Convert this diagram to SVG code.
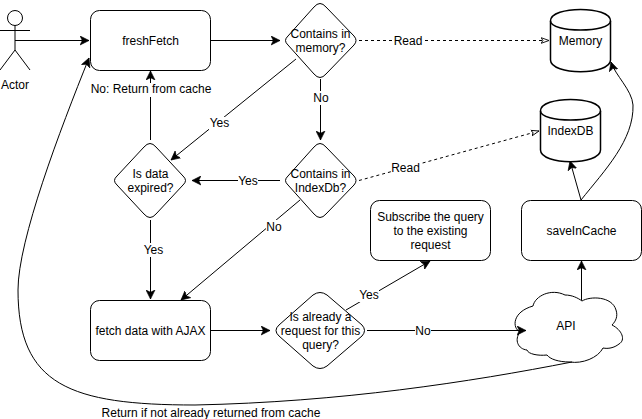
<svg xmlns="http://www.w3.org/2000/svg" width="642" height="419" viewBox="0 0 642 419">
<style>
text{font-family:"Liberation Sans",Arial,sans-serif;font-size:12px;fill:#000;text-anchor:middle}
.s{fill:#fff;stroke:#000;stroke-width:1}
.c{fill:none;stroke:#000;stroke-width:1}
.d{stroke-dasharray:3 3}
.l{fill:#fff;stroke:none}
.b{stroke-width:1.500}
</style>
<defs>
<marker id="a" markerUnits="userSpaceOnUse" markerWidth="10" markerHeight="10" refX="8" refY="4" orient="auto" viewBox="0 0 9 8"><path d="M0 0L8 4L0 8L2 4Z" fill="#000" stroke="#000" stroke-width=".6"/></marker>
<marker id="o" markerUnits="userSpaceOnUse" markerWidth="9" markerHeight="8" refX="7" refY="3" orient="auto" viewBox="0 0 8 6"><path d="M0 .5L7 3L0 5.5L1.6 3Z" fill="#fff" stroke="#000" stroke-width=".8"/></marker>
</defs>
<rect width="642" height="419" fill="#fff"/>
<g id="actor"><circle class="s" cx="15" cy="18" r="7.500"/><path class="c" d="M15 25.500V50M0 30.500H30M15 50L0 70M15 50L30 70"/><text x="15" y="89">Actor</text></g>
<g id="freshFetch"><rect class="s" x="90.500" y="10.500" width="120" height="60" rx="9"/><text x="150.500" y="45">freshFetch</text></g>
<g id="containsMemory"><path class="s" d="M314 7Q320 0 326 7L354 36Q358 40.500 354 45L326 74Q320 81 314 74L288 45Q283 40.500 288 36Z"/><text x="320.500" y="38">Contains in</text><text x="320.500" y="52">memory?</text></g>
<g id="containsIndexDb"><path class="s" d="M314 147Q320 140 326 147L354 176Q358 180.500 354 185L326 214Q320 221 314 214L288 185Q283 180.500 288 176Z"/><text x="320.500" y="178">Contains in</text><text x="320.500" y="192">IndexDb?</text></g>
<g id="isExpired"><path class="s" d="M144 147Q150 140 156 147L183 176Q188 180.500 183 185L156 214Q150 221 144 214L117 185Q112 180.500 117 176Z"/><text x="150.500" y="178">Is data</text><text x="150.500" y="192">expired?</text></g>
<g id="fetchAjax"><rect class="s" x="90.500" y="300.500" width="120" height="60" rx="9"/><text x="150.500" y="335">fetch data with AJAX</text></g>
<g id="isRequest"><path class="s" d="M313 295Q320 290 327 295L362 325Q367 330.500 362 336L327 366Q320 371 313 366L279 336Q273 330.500 279 325Z"/><text x="320.500" y="321">Is already a</text><text x="320.500" y="335">request for this</text><text x="320.500" y="349">query?</text></g>
<g id="subscribe"><rect class="s" x="370.500" y="200.500" width="120" height="60" rx="9"/><text x="430.500" y="221">Subscribe the query</text><text x="430.500" y="235">to the existing</text><text x="430.500" y="249">request</text></g>
<g id="saveInCache"><rect class="s" x="521.500" y="200.500" width="120" height="60" rx="9"/><text x="581.500" y="235">saveInCache</text></g>
<g id="memory"><path class="s b" d="M550.500 21C550.500 5.500 610.500 5.500 610.500 21V60C610.500 75.500 550.500 75.500 550.500 60Z"/><path class="c b" d="M550.500 21C550.500 33 610.500 33 610.500 21"/><text x="580.500" y="45">Memory</text></g>
<g id="indexDB"><path class="s b" d="M540.500 111C540.500 95.500 600.500 95.500 600.500 111V150C600.500 165.500 540.500 165.500 540.500 150Z"/><path class="c b" d="M540.500 111C540.500 123 600.500 123 600.500 111"/><text x="570.500" y="135">IndexDB</text></g>
<g id="api"><path class="s" d="M533 306C535 296 551 288 565 295C572 295 578 298 582 301C590 296 612 296 616 310C618 316 616 321 612 325C622 330 626 340 619 344C614 348 608 349 603 348C598 358 582 364 570 362C558 362 550 359 547 355C538 356 528 354 527 350C518 349 514 340 520 332C512 328 512 312 533 306Z"/><text x="566" y="330">API</text></g>
<g id="connectors">
<path class="c" d="M15 40.500H89" marker-end="url(#a)"/>
<path class="c" d="M210.500 40.500H280" marker-end="url(#a)"/>
<path class="c d" d="M359 40.500H549" marker-end="url(#o)"/>
<path class="c" d="M320.500 79V140" marker-end="url(#a)"/>
<path class="c" d="M296 59L171 160" marker-end="url(#a)"/>
<path class="c" d="M150.500 140V71" marker-end="url(#a)"/>
<path class="c" d="M280 180.500H192" marker-end="url(#a)"/>
<path class="c d" d="M359 180.500L539 131" marker-end="url(#o)"/>
<path class="c" d="M150.500 220V299" marker-end="url(#a)"/>
<path class="c" d="M300 200L181 300" marker-end="url(#a)"/>
<path class="c" d="M210.500 330.500H270" marker-end="url(#a)"/>
<path class="c" d="M367 330.500H526" marker-end="url(#a)"/>
<path class="c" d="M346 310L430 261" marker-end="url(#a)"/>
<path class="c" d="M581.500 300V261" marker-end="url(#a)"/>
<path class="c" d="M581 200L570 161" marker-end="url(#a)"/>
<path class="c" d="M581 200C605 170 634 140 633 105C632 90 615 75 611 62" marker-end="url(#a)"/>
<path class="c" d="M572 362C470 382 340 402 195 405C70 405 18 385 18 290C18 240 60 130 89 58" marker-end="url(#a)"/>
</g>
<g id="labels">
<rect class="l" x="92" y="83" width="119" height="14"/><text x="151" y="93">No: Return from cache</text>
<rect class="l" x="209" y="117" width="21" height="14"/><text x="219.500" y="127">Yes</text>
<rect class="l" x="312" y="91" width="18" height="14"/><text x="321" y="102">No</text>
<rect class="l" x="238" y="173" width="20" height="14"/><text x="248" y="185">Yes</text>
<rect class="l" x="143" y="243" width="20" height="14"/><text x="153.500" y="254">Yes</text>
<rect class="l" x="266" y="220" width="16" height="14"/><text x="274" y="231">No</text>
<rect class="l" x="393" y="34" width="30" height="14"/><text x="408" y="45">Read</text>
<rect class="l" x="391" y="160" width="30" height="14"/><text x="405.500" y="172">Read</text>
<rect class="l" x="359" y="288" width="20" height="14"/><text x="369" y="299">Yes</text>
<rect class="l" x="415" y="324" width="16" height="14"/><text x="423" y="335">No</text>
<text x="211" y="417">Return if not already returned from cache</text>
</g>
</svg>
